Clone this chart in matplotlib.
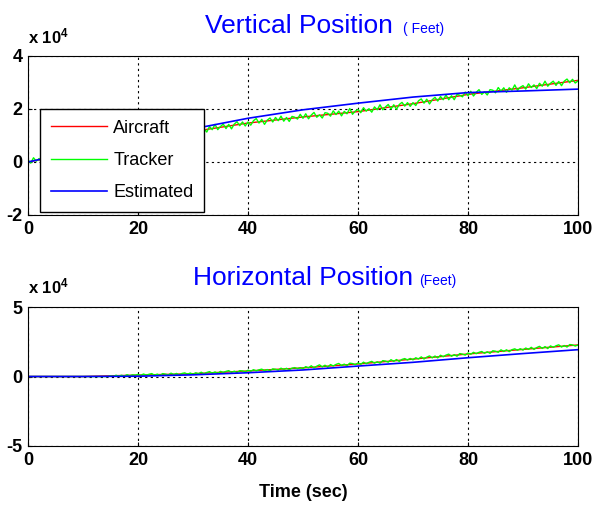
import matplotlib
matplotlib.use('Agg')
import matplotlib.pyplot as plt
import numpy as np

plt.rcParams['font.family'] = ['Liberation Sans', 'DejaVu Sans']
plt.rcParams['mathtext.default'] = 'regular'
plt.rcParams['axes.unicode_minus'] = False

# time axis (sec)
t_knots = [0, 10, 20, 30, 40, 50, 60, 70, 80, 90, 100]
t_track = np.arange(0, 100.5, 0.5)

# vertical position, units of 1e4 feet
vert_aircraft = [0.0, 0.40, 0.80, 1.15, 1.47, 1.70, 1.90, 2.20, 2.55, 2.80, 3.08]
vert_estimated = [0.0, 0.45, 0.90, 1.25, 1.65, 1.97, 2.22, 2.45, 2.62, 2.68, 2.75]
vert_tracker = [
    0.08, -0.04, 0.16, 0.03, 0.13, 0.00, 0.21, 0.10, 0.30, 0.11,
    0.23, 0.32, 0.16, 0.32, 0.16, 0.34, 0.43, 0.29, 0.43, 0.29,
    0.35, 0.53, 0.35, 0.50, 0.61, 0.44, 0.54, 0.43, 0.64, 0.63,
    0.53, 0.74, 0.61, 0.75, 0.58, 0.76, 0.68, 0.89, 0.68, 0.81,
    0.84, 0.73, 0.91, 0.98, 0.82, 0.97, 0.79, 0.95, 1.04, 0.90,
    1.07, 0.95, 1.13, 0.95, 1.10, 0.95, 1.15, 1.12, 1.06, 1.24,
    1.23, 1.11, 1.30, 1.17, 1.26, 1.13, 1.34, 1.22, 1.42, 1.22,
    1.34, 1.43, 1.26, 1.42, 1.25, 1.43, 1.52, 1.37, 1.51, 1.36,
    1.51, 1.39, 1.56, 1.64, 1.47, 1.61, 1.42, 1.58, 1.66, 1.51,
    1.68, 1.56, 1.73, 1.54, 1.68, 1.53, 1.72, 1.69, 1.62, 1.80,
    1.65, 1.82, 1.63, 1.77, 1.87, 1.69, 1.78, 1.66, 1.86, 1.84,
    1.73, 1.93, 1.79, 1.92, 1.74, 1.91, 1.82, 2.02, 1.80, 1.92,
    1.98, 1.86, 2.05, 1.92, 2.01, 1.88, 2.08, 1.97, 2.16, 1.97,
    2.08, 2.17, 2.00, 2.16, 1.99, 2.17, 2.25, 2.11, 2.24, 2.10,
    2.24, 2.13, 2.31, 2.38, 2.22, 2.37, 2.19, 2.35, 2.44, 2.30,
    2.47, 2.35, 2.53, 2.35, 2.50, 2.35, 2.55, 2.52, 2.46, 2.64,
    2.50, 2.67, 2.49, 2.63, 2.73, 2.55, 2.65, 2.53, 2.73, 2.71,
    2.61, 2.81, 2.67, 2.80, 2.63, 2.80, 2.71, 2.91, 2.70, 2.82,
    2.88, 2.75, 2.95, 2.81, 2.91, 2.77, 2.97, 2.86, 3.05, 2.86,
    2.97, 3.05, 2.89, 3.04, 2.88, 3.05, 3.13, 2.99, 3.12, 2.98,
    3.06,
]

# horizontal position, units of 1e4 feet
hor_aircraft = [0.0, 0.0, 0.10, 0.20, 0.40, 0.62, 0.90, 1.25, 1.62, 1.95, 2.27]
hor_estimated = [0.0, 0.0, 0.02, 0.12, 0.27, 0.47, 0.75, 1.02, 1.35, 1.65, 1.93]
hor_tracker = [
    0, 0, 0, 0, 0, 0, 0, 0, 0, 0,
    0, 0, 0, 0, 0, 0, 0, 0, 0, 0,
    0, 0, 0, 0, 0, 0, 0, 0, 0, 0,
    0.05, 0.01, 0.09, 0.03, 0.09, 0.03, 0.13, 0.06, 0.12, 0.10,
    0.15, 0.08, 0.18, 0.10, 0.16, 0.21, 0.09, 0.17, 0.08, 0.21,
    0.17, 0.11, 0.24, 0.14, 0.22, 0.12, 0.22, 0.26, 0.17, 0.25,
    0.16, 0.27, 0.20, 0.31, 0.19, 0.29, 0.35, 0.24, 0.33, 0.23,
    0.37, 0.29, 0.37, 0.42, 0.30, 0.38, 0.29, 0.42, 0.40, 0.34,
    0.45, 0.38, 0.49, 0.41, 0.48, 0.53, 0.42, 0.50, 0.42, 0.55,
    0.52, 0.46, 0.60, 0.50, 0.59, 0.49, 0.60, 0.64, 0.56, 0.64,
    0.57, 0.71, 0.62, 0.77, 0.62, 0.74, 0.84, 0.69, 0.81, 0.67,
    0.86, 0.76, 0.87, 0.94, 0.79, 0.89, 0.78, 0.96, 0.93, 0.85,
    0.97, 0.88, 1.03, 0.92, 1.02, 1.09, 0.96, 1.06, 0.96, 1.14,
    1.11, 1.03, 1.21, 1.09, 1.22, 1.08, 1.23, 1.29, 1.19, 1.30,
    1.20, 1.35, 1.26, 1.41, 1.26, 1.39, 1.48, 1.34, 1.47, 1.34,
    1.53, 1.42, 1.54, 1.61, 1.46, 1.57, 1.46, 1.65, 1.61, 1.54,
    1.69, 1.60, 1.74, 1.64, 1.74, 1.80, 1.67, 1.78, 1.67, 1.85,
    1.82, 1.74, 1.92, 1.80, 1.92, 1.79, 1.93, 1.99, 1.89, 2.00,
    1.90, 2.05, 1.95, 2.10, 1.95, 2.08, 2.17, 2.02, 2.15, 2.01,
    2.20, 2.10, 2.21, 2.28, 2.12, 2.23, 2.12, 2.30, 2.27, 2.19,
    2.27,
]

W, H = 596, 505
fig = plt.figure(figsize=(W / 100, H / 100), dpi=100)
ax1 = fig.add_axes([28 / W, 1 - 215 / H, 550 / W, 159 / H])
ax2 = fig.add_axes([28 / W, 1 - 446 / H, 550 / W, 139 / H])


def style(ax, yticks):
    ax.set_xlim(0, 100)
    ax.set_ylim(yticks[0], yticks[-1])
    ax.set_xticks([0, 20, 40, 60, 80, 100])
    ax.set_yticks(yticks)
    ax.grid(True, color='black', linestyle=(0, (2, 3)), linewidth=0.8)
    ax.tick_params(direction='in', length=3, labelsize=13, pad=4)
    for lab in ax.get_xticklabels() + ax.get_yticklabels():
        lab.set_fontweight('bold')
    for s in ax.spines.values():
        s.set_linewidth(0.8)


ax1.plot(t_knots, vert_aircraft, color='red', lw=1.0, label='Aircraft')
ax1.plot(t_track, vert_tracker, color='#00ff00', lw=1.0, label='Tracker')
ax1.plot(t_knots, vert_estimated, color='blue', lw=1.2, label='Estimated')
style(ax1, [-2, 0, 2, 4])
ax1.legend(loc='upper left', bbox_to_anchor=(0.022, 0.667), fontsize=13,
           fancybox=False, framealpha=1, edgecolor='black', borderpad=0.6,
           labelspacing=0.85, handlelength=3.1, handletextpad=0.35,
           borderaxespad=0)

ax2.plot(t_knots, hor_aircraft, color='red', lw=1.0)
ax2.plot(t_track, hor_tracker, color='#00ff00', lw=1.0)
ax2.plot(t_knots, hor_estimated, color='blue', lw=1.2)
style(ax2, [-5, 0, 5])
ax2.set_xlabel('Time (sec)', fontsize=13, fontweight='bold', labelpad=11)

# titles and exponent labels
fig.text(205 / W, 1 - 33 / H, 'Vertical Position', color='blue', fontsize=19, va='baseline')
fig.text(403 / W, 1 - 33 / H, '( Feet)', color='blue', fontsize=10, va='baseline')
fig.text(193 / W, 1 - 285 / H, 'Horizontal Position', color='blue', fontsize=19, va='baseline')
fig.text(419 / W, 1 - 285 / H, '(Feet)', color='blue', fontsize=10, va='baseline')
fig.text(28 / W, 1 - 43 / H, 'x 10$^{4}$', fontsize=12, fontweight='bold', va='baseline')
fig.text(28 / W, 1 - 293 / H, 'x 10$^{4}$', fontsize=12, fontweight='bold', va='baseline')

fig.savefig('out.png', dpi=100)
